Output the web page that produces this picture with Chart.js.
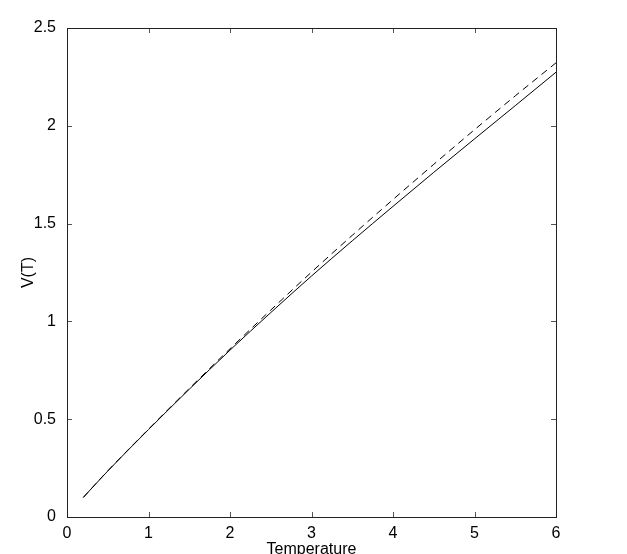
<!DOCTYPE html>
<html>
<head>
<meta charset="utf-8">
<script src="https://cdn.jsdelivr.net/npm/chart.js@4"></script>
<style>
  html, body { margin: 0; padding: 0; background: #fff; }
  #wrap { width: 627px; height: 554px; }
</style>
</head>
<body>
<div id="wrap"><canvas id="chart" width="627" height="554"></canvas></div>
<script>
const temps = [0.2, 0.5, 1, 1.5, 2, 2.5, 3, 3.5, 4, 4.5, 5, 5.5, 6];
const solidV = [0.100, 0.235, 0.447, 0.653, 0.853, 1.045, 1.232, 1.412, 1.588, 1.762, 1.933, 2.103, 2.274];
const dashedV = [0.100, 0.236, 0.449, 0.657, 0.860, 1.058, 1.252, 1.440, 1.623, 1.803, 1.980, 2.153, 2.322];
const xTicks = [0, 1, 2, 3, 4, 5, 6];
const yTicks = [0, 0.5, 1, 1.5, 2, 2.5];

const font = { family: "'Liberation Sans', Arial, sans-serif", size: 16 };

// gnuplot-style frame with inward ticks on all four sides
const framePlugin = {
  id: "frame",
  afterDraw(chart) {
    const { ctx, chartArea: a, scales } = chart;
    ctx.save();
    ctx.strokeStyle = "#555";
    ctx.lineWidth = 1;
    xTicks.forEach(v => {
      const x = Math.round(scales.x.getPixelForValue(v)) + 0.5;
      ctx.beginPath();
      ctx.moveTo(x, a.bottom); ctx.lineTo(x, a.bottom - 5);
      ctx.moveTo(x, a.top); ctx.lineTo(x, a.top + 5);
      ctx.stroke();
    });
    yTicks.forEach(v => {
      const y = Math.round(scales.y.getPixelForValue(v)) + 0.5;
      ctx.beginPath();
      ctx.moveTo(a.left, y); ctx.lineTo(a.left + 5, y);
      ctx.moveTo(a.right, y); ctx.lineTo(a.right - 5, y);
      ctx.stroke();
    });
    ctx.strokeStyle = "#222";
    ctx.strokeRect(Math.round(a.left) + 0.5, Math.round(a.top) + 0.5,
      Math.round(a.right - a.left), Math.round(a.bottom - a.top));
    ctx.restore();
  }
};

new Chart(document.getElementById("chart"), {
  type: "line",
  data: {
    datasets: [
      {
        data: temps.map((t, i) => ({ x: t, y: solidV[i] })),
        borderColor: "#000",
        borderWidth: 1,
        pointRadius: 0,
        cubicInterpolationMode: "monotone",
      },
      {
        data: temps.map((t, i) => ({ x: t, y: dashedV[i] })),
        borderColor: "#000",
        borderWidth: 1,
        borderDash: [7, 5],
        pointRadius: 0,
        cubicInterpolationMode: "monotone",
      },
    ],
  },
  plugins: [framePlugin],
  options: {
    responsive: false,
    animation: false,
    events: [],
    layout: { padding: { top: 28, right: 71, left: 0, bottom: 0 } },
    plugins: { legend: { display: false }, tooltip: { enabled: false } },
    scales: {
      x: {
        type: "linear",
        min: 0,
        max: 6,
        afterFit: s => { s.height = 37; },
        afterBuildTicks: s => { s.ticks = xTicks.map(v => ({ value: v })); },
        grid: { display: false, drawTicks: false },
        border: { display: false },
        ticks: { color: "#000", font, padding: 7, maxRotation: 0, callback: v => String(v) },
        title: { display: true, text: "Temperature", color: "#000", font, padding: { top: 0, bottom: -5 } },
      },
      y: {
        type: "linear",
        min: 0,
        max: 2.5,
        afterFit: s => { s.width = 67; },
        afterBuildTicks: s => { s.ticks = yTicks.map(v => ({ value: v })); },
        grid: { display: false, drawTicks: false },
        border: { display: false },
        ticks: { color: "#000", font, padding: 11, callback: v => String(v) },
        title: { display: true, text: "V(T)", color: "#000", font, padding: { top: 19, bottom: 0 } },
      },
    },
  },
});
</script>
</body>
</html>
